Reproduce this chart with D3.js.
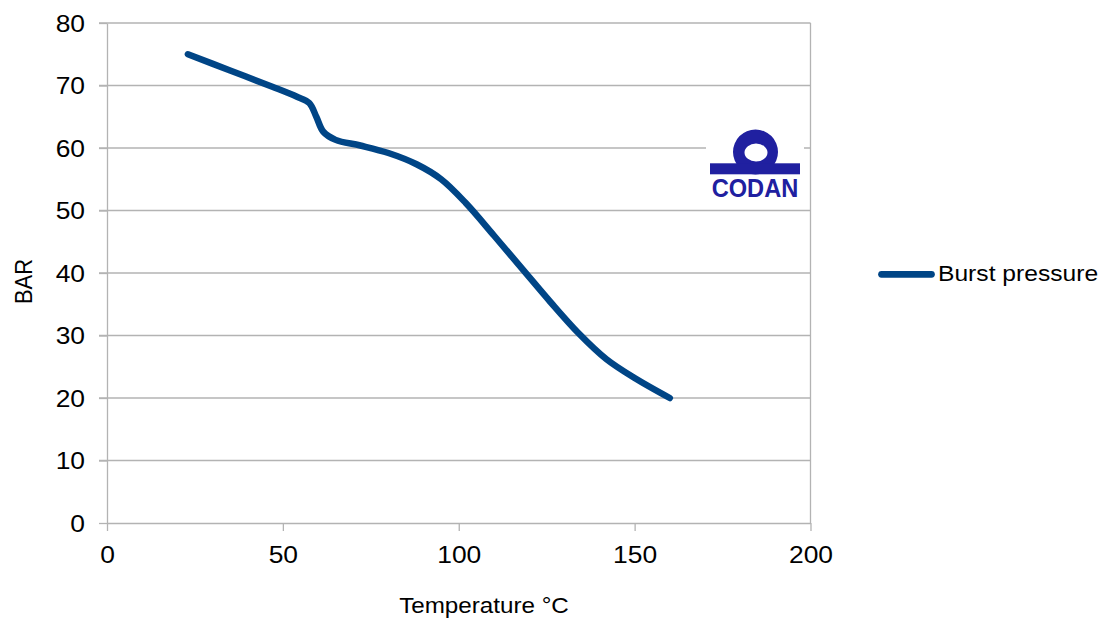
<!DOCTYPE html>
<html>
<head>
<meta charset="utf-8">
<script src="https://cdn.jsdelivr.net/npm/d3@7"></script>
<style>
  html, body { margin: 0; padding: 0; background: #fff; }
  svg { display: block; }
  text { font-family: "Liberation Sans", Arial, sans-serif; }
</style>
</head>
<body>
<svg id="chart" width="1108" height="619"></svg>
<script>
// Data
const temperature = [23, 35, 47, 54, 57.5, 59.5, 61.5, 65, 72, 80, 88, 95, 102, 110, 118, 126, 134, 142, 150, 160];
const burstPressure = [75, 72.4, 69.8, 68.2, 67.2, 65.0, 62.6, 61.3, 60.4, 59.2, 57.4, 55.0, 51.2, 46.0, 40.7, 35.4, 30.4, 26.2, 23.2, 20];
const xTicks = [0, 50, 100, 150, 200];
const yTicks = [0, 10, 20, 30, 40, 50, 60, 70, 80];
const seriesName = "Burst pressure";
const xTitle = "Temperature °C";
const yTitle = "BAR";
const logoText = "CODAN";

const svg = d3.select("#chart");
const pLeft = 107, pRight = 810.5, pTop = 23, pBottom = 523;
const sx = 1.1; // horizontal text stretch

const x = d3.scaleLinear().domain([0, 200]).range([pLeft, pRight]);
const y = d3.scaleLinear().domain([0, 80]).range([pBottom, pTop]);
const grid = "#b3b3b3";
const blue = "#004586";

// Gridlines
svg.append("g").selectAll("line").data(yTicks.filter(d => d > 0)).join("line")
  .attr("x1", pLeft - 8).attr("x2", pRight)
  .attr("y1", d => y(d)).attr("y2", d => y(d))
  .attr("stroke", grid).attr("stroke-width", 1.3);

// Right border
svg.append("line").attr("x1", pRight).attr("x2", pRight).attr("y1", pTop).attr("y2", pBottom)
  .attr("stroke", grid).attr("stroke-width", 1.3);

// Y axis
const yAxis = svg.append("g").attr("transform", `translate(${pLeft},0)`)
  .call(d3.axisLeft(y).tickValues(yTicks).tickSize(8).tickSizeOuter(0));
yAxis.select(".domain").attr("stroke", grid).attr("stroke-width", 1.3);
yAxis.selectAll(".tick line").attr("stroke", grid).attr("stroke-width", 1.3);
yAxis.selectAll(".tick text")
  .attr("x", 0).attr("dy", "0.35em")
  .attr("transform", `translate(-22,0) scale(${sx},1)`)
  .style("font-size", "24px").style("font-family", "'Liberation Sans', Arial, sans-serif").style("fill", "#000");

// X axis
const xAxis = svg.append("g").attr("transform", `translate(0,${pBottom})`)
  .call(d3.axisBottom(x).tickValues(xTicks).tickSize(8).tickSizeOuter(0));
xAxis.select(".domain").attr("stroke", grid).attr("stroke-width", 1.3);
xAxis.selectAll(".tick line").attr("stroke", grid).attr("stroke-width", 1.3);
xAxis.selectAll(".tick text")
  .attr("y", 0).attr("dy", 0)
  .attr("transform", `translate(0,40) scale(${sx},1)`)
  .style("font-size", "24px").style("font-family", "'Liberation Sans', Arial, sans-serif").style("fill", "#000");

// Logo (white backing box covering gridlines)
const logo = svg.append("g");
logo.append("rect").attr("x", 706).attr("y", 122).attr("width", 98).attr("height", 82).attr("fill", "#fff");
const logoBlue = "#2020a0";
const cx = 755.5, cy = 152;
logo.append("path")
  .attr("d", `M${cx-22.5},${cy} a22.5,22.5 0 1,0 45,0 a22.5,22.5 0 1,0 -45,0 Z
              M${cx-11.5+0.5},${cy+0.5} a11.5,9 0 1,0 23,0 a11.5,9 0 1,0 -23,0 Z`)
  .attr("fill", logoBlue).attr("fill-rule", "evenodd");
logo.append("rect").attr("x", 710).attr("y", 163.3).attr("width", 90).attr("height", 11).attr("fill", logoBlue);
logo.append("text").attr("x", 711.7).attr("y", 197.3)
  .attr("textLength", 86.6).attr("lengthAdjust", "spacingAndGlyphs")
  .style("font-size", "25px").style("font-weight", "bold").style("fill", logoBlue)
  .text(logoText);

// Curve
const line = d3.line().x((d, i) => x(temperature[i])).y(d => y(d)).curve(d3.curveCatmullRom.alpha(0.5));
svg.append("path").datum(burstPressure)
  .attr("d", line).attr("fill", "none").attr("stroke", blue)
  .attr("stroke-width", 6.5).attr("stroke-linecap", "round").attr("stroke-linejoin", "round");

// Legend
svg.append("line").attr("x1", 881.5).attr("x2", 931.5).attr("y1", 274.3).attr("y2", 274.3)
  .attr("stroke", blue).attr("stroke-width", 6.7).attr("stroke-linecap", "round");
svg.append("text").attr("transform", `translate(938,280.5) scale(1.12,1)`)
  .style("font-size", "22px").style("fill", "#000").text(seriesName);

// Axis titles
svg.append("text").attr("transform", `translate(484,613.3) scale(${sx},1)`)
  .attr("text-anchor", "middle").style("font-size", "22px").style("fill", "#000").text(xTitle);
svg.append("text").attr("transform", `translate(31.5,281.5) scale(${sx},1) rotate(-90)`)
  .attr("text-anchor", "middle").style("font-size", "22px").style("fill", "#000").text(yTitle);
</script>
</body>
</html>
